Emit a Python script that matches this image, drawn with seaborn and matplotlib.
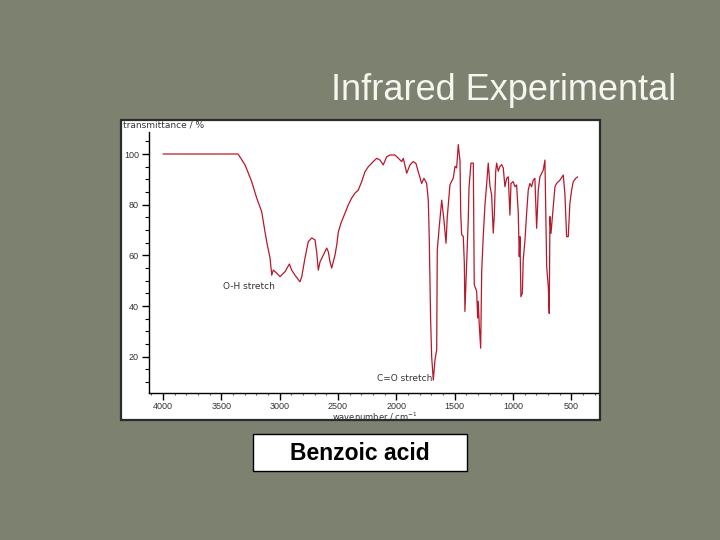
import numpy as np
import pandas as pd
import seaborn as sns
import matplotlib.pyplot as plt
from matplotlib.patches import Rectangle
from matplotlib.ticker import MultipleLocator, FixedLocator

# spectrum: wavenumber (cm-1) and transmittance (%)
wavenumber = [4000, 3357, 3340, 3297, 3240, 3197, 3154, 3126, 3106, 3083, 3068, 3055,
              3025, 2997, 2954, 2917, 2897, 2869, 2826, 2811, 2783, 2755, 2725, 2697,
              2683, 2669, 2654, 2626, 2597, 2583, 2569, 2554, 2526, 2511, 2497, 2474,
              2440, 2412, 2383, 2354, 2326, 2297, 2269, 2240, 2198, 2168, 2140, 2112,
              2083, 2054, 2011, 1983, 1954, 1940, 1911, 1883, 1855, 1832, 1812, 1783,
              1763, 1740, 1726, 1718, 1706, 1697, 1683, 1669, 1654, 1649, 1632, 1611,
              1592, 1574, 1563, 1540, 1512, 1497, 1483, 1469, 1454, 1448, 1440, 1426,
              1417, 1412, 1397, 1383, 1377, 1360, 1340, 1332, 1311, 1303, 1298, 1289,
              1277, 1268, 1255, 1240, 1226, 1212, 1197, 1183, 1169, 1160, 1148, 1140,
              1126, 1112, 1097, 1083, 1069, 1054, 1040, 1026, 1017, 998, 983, 969,
              955, 946, 940, 932, 920, 912, 897, 883, 869, 855, 840, 826,
              812, 797, 788, 783, 769, 754, 740, 726, 711, 697, 689, 683,
              674, 655, 640, 626, 597, 569, 555, 540, 526, 512, 497, 483,
              462, 445]
transmittance = [100, 100, 98.8, 95.7, 89.1, 82.6, 77.2, 69.3, 64.1, 59.0, 52.2, 54.2,
                 53.0, 51.6, 53.6, 56.6, 54.2, 52.2, 49.6, 51.6, 59.0, 65.4, 66.9, 66.1,
                 61.4, 54.2, 57.5, 60.1, 62.9, 61.4, 57.5, 55.0, 60.1, 64.1, 69.3, 72.8,
                 76.7, 79.9, 82.6, 84.6, 85.8, 89.1, 93.0, 95.0, 97.0, 98.3, 97.6, 95.7,
                 98.9, 99.6, 99.6, 98.3, 97.0, 98.3, 92.4, 95.7, 97.0, 96.3, 93.0, 88.4,
                 90.4, 88.4, 81.8, 67.4, 34.5, 20.0, 10.8, 18.7, 22.7, 62.1, 71.3, 81.8,
                 74.0, 64.8, 75.3, 87.9, 90.5, 95.1, 94.5, 103.7, 97.1, 76.7, 68.2, 67.5,
                 57.0, 37.9, 57.0, 74.7, 86.6, 96.4, 96.4, 48.4, 45.8, 35.3, 41.9, 32.6,
                 23.4, 53.7, 67.5, 80.0, 87.9, 96.4, 87.3, 83.9, 68.8, 76.0, 93.2, 96.4,
                 93.2, 95.1, 95.8, 94.5, 87.1, 90.4, 91.0, 75.9, 88.4, 89.1, 87.1, 87.8,
                 77.2, 59.5, 67.4, 43.7, 45.0, 58.2, 66.1, 76.6, 85.8, 88.4, 87.1, 89.7,
                 90.4, 70.7, 80.5, 85.8, 91.0, 92.4, 93.7, 97.6, 55.5, 47.6, 37.1, 75.3,
                 68.7, 79.2, 87.1, 88.4, 89.7, 91.7, 84.5, 67.4, 67.4, 80.5, 85.8, 89.1,
                 90.4, 91.0]

x_ticks = [4000, 3500, 3000, 2500, 2000, 1500, 1000, 500]
y_ticks = [20, 40, 60, 80, 100]

title = "Infrared Experimental"
compound = "Benzoic acid"

df = pd.DataFrame({"wavenumber": wavenumber, "transmittance": transmittance})

sns.set_style("ticks")
plt.rcParams['font.family'] = ['Liberation Sans', 'DejaVu Sans']

bg = "#7d8170"
fig = plt.figure(figsize=(7.2, 5.4), dpi=100, facecolor=bg)

# white panel of the spectrum picture (behind the axes)
fig.patches.append(Rectangle((121 / 720, 1 - 420 / 540), 479 / 720, 300 / 540,
                             transform=fig.transFigure, facecolor="white",
                             edgecolor="#2b2b2b", linewidth=1.6, zorder=-2))

ax = fig.add_axes([148.7 / 720, 1 - 393.3 / 540, 449.3 / 720, 261.6 / 540])
ax.set_facecolor("none")
sns.lineplot(data=df, x="wavenumber", y="transmittance", ax=ax, sort=False,
             estimator=None, color="#b8182a", linewidth=0.9)

ax.set_xlim(4123, 271)
ax.set_ylim(5.6, 108.8)
ax.xaxis.set_major_locator(FixedLocator(x_ticks))
ax.xaxis.set_minor_locator(MultipleLocator(100))
ax.yaxis.set_major_locator(FixedLocator(y_ticks))
ax.yaxis.set_minor_locator(MultipleLocator(5))
ax.set_xticklabels([str(t) for t in x_ticks])
ax.set_yticklabels([str(t) for t in y_ticks])
ax.tick_params(axis="both", which="major", labelsize=6.5, labelcolor="#333333",
               color="black", width=1.0, length=5, pad=2)
ax.tick_params(axis="x", which="major", pad=1)
ax.tick_params(axis="y", which="minor", length=3, width=0.8, color="black")
ax.tick_params(axis="x", which="minor", length=1.5, width=0.8, color="#555555")
for s in ["top", "right"]:
    ax.spines[s].set_visible(False)
for s in ["left", "bottom"]:
    ax.spines[s].set_color("black")
    ax.spines[s].set_linewidth(1.0)
ax.set_xlabel("")
ax.set_ylabel("")

fig.text(123 / 720, 1 - 125 / 540, "transmittance / %", fontsize=6.5,
         color="#333333", va="center", ha="left", family="DejaVu Sans")
fig.text(375 / 720, 1 - 416.5 / 540, "wavenumber / cm$^{-1}$", fontsize=6,
         color="#333333", va="center", ha="center", family="DejaVu Sans")
ax.text(3486, 47.9, "O-H stretch", fontsize=6.5, color="#333333", va="center",
        ha="left", family="DejaVu Sans")
ax.text(2166, 11.6, "C=O stretch", fontsize=6.5, color="#333333", va="center",
        ha="left", family="DejaVu Sans")

fig.text(676 / 720, 1 - 100 / 540, title, fontsize=26, color="#f6f6f0",
         ha="right", va="baseline")

fig.patches.append(Rectangle((252.7 / 720, 1 - 471 / 540), 214.6 / 720, 36.7 / 540,
                             transform=fig.transFigure, facecolor="white",
                             edgecolor="black", linewidth=1.0, zorder=-2))
fig.text(360 / 720, 1 - 453 / 540, compound, fontsize=16.5, fontweight="bold",
         color="black", ha="center", va="center")

fig.savefig("out.png", dpi=100, facecolor=bg)
